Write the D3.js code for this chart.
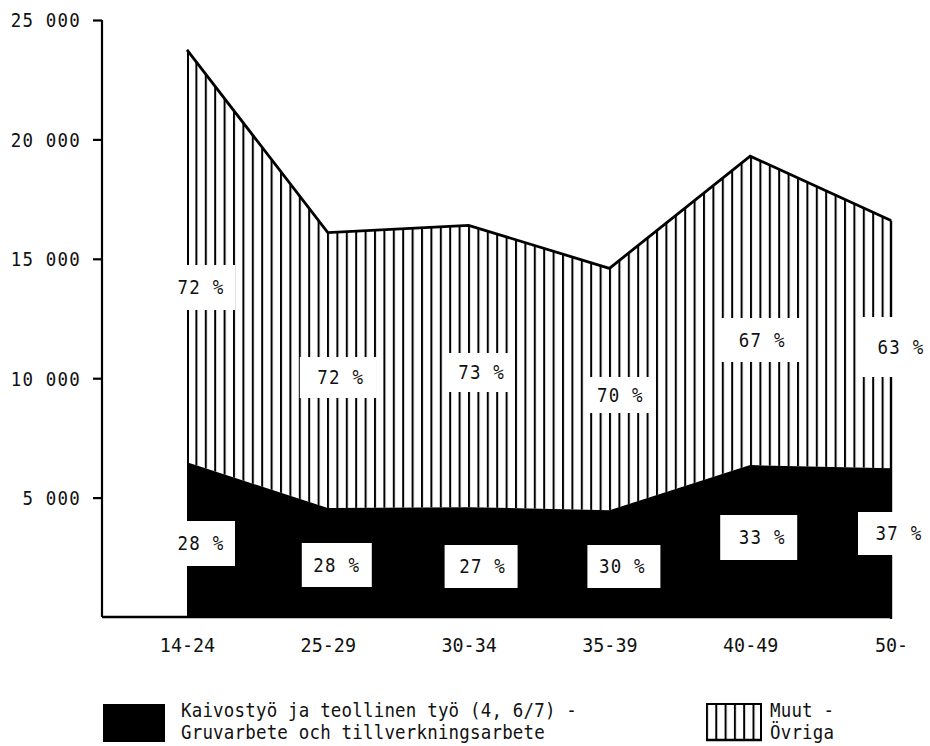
<!DOCTYPE html>
<html><head><meta charset="utf-8">
<script src="https://cdn.jsdelivr.net/npm/d3@7"></script>
<style>
body{margin:0;background:#fff;}
text{font-family:"DejaVu Sans Mono",monospace;fill:#111;}
</style></head>
<body><svg id="chart" width="930" height="746"></svg>
<script>
// ---- data ----
const categories = ["14-24","25-29","30-34","35-39","40-49","50-"];
const industry   = [6480, 4560, 4600, 4470, 6360, 6230];      // Kaivostyö ja teollinen työ
const others     = [17270, 11540, 11800, 10130, 12940, 10370]; // Muut - Övriga
const pctIndustry = ["28 %","28 %","27 %","30 %","33 %","37 %"];
const pctOthers   = ["72 %","72 %","73 %","70 %","67 %","63 %"];
const yTicks = [5000, 10000, 15000, 20000, 25000];
const yTickLabels = ["5 000","10 000","15 000","20 000","25 000"];
const legendLabels = [["Kaivostyö ja teollinen työ (4, 6/7) -","Gruvarbete och tillverkningsarbete"],["Muut -","Övriga"]];

// ---- layout (label boxes relative to category x) ----
const upperBox = [ {dx:-11,w:59,y:265,h:45,tx:14}, {dx:-28,w:77,y:357,h:41,tx:13}, {dx:-22,w:66,y:353,h:39,tx:13},
                   {dx:-24,w:70,y:377,h:36,tx:11}, {dx:-30,w:80,y:318,h:44,tx:12}, {dx:-33,w:67,y:317,h:60,tx:10} ];
const lowerBox = [ {dx:-11,w:59,y:521,h:45,tx:14}, {dx:-26,w:70,y:543,h:44,tx:9}, {dx:-24,w:73,y:545,h:43,tx:14},
                   {dx:-22,w:73,y:545,h:43,tx:13}, {dx:-30,w:77,y:515,h:45,tx:12}, {dx:-33,w:67,y:512,h:43,tx:8} ];
const SX = 0.92; // horizontal squeeze of the typewriter-like font

const svg = d3.select("#chart");
const x = d3.scalePoint().domain(categories).range([187, 891]);
const y = d3.scaleLinear().domain([0, 25000]).range([617, 20]);

function styleText(sel, size, ls){
  sel.style("font-size", size+"px").style("letter-spacing", ls+"px")
     .style("font-family","'DejaVu Sans Mono',monospace").attr("fill","#111");
}

// hatch pattern
const defs = svg.append("defs");
const pat = defs.append("pattern").attr("id","hatch").attr("patternUnits","userSpaceOnUse")
  .attr("x",186).attr("y",0).attr("width",9.4).attr("height",20);
pat.append("rect").attr("x",0).attr("y",0).attr("width",2).attr("height",20).attr("fill","#000");
const pat2 = defs.append("pattern").attr("id","hatch2").attr("patternUnits","userSpaceOnUse")
  .attr("x",706).attr("y",0).attr("width",9.3).attr("height",20);
pat2.append("rect").attr("x",0).attr("y",0).attr("width",2).attr("height",20).attr("fill","#000");

const rows = categories.map((c,i)=>({c, ind:industry[i], oth:others[i]}));
const stack = d3.stack().keys(["ind","oth"])(rows);

const area = d3.area().x(d=>x(d.data.c)).y0(d=>y(d[0])).y1(d=>y(d[1])).curve(d3.curveLinear);
svg.append("path").datum(stack[1]).attr("d",area).attr("fill","url(#hatch)");
svg.append("path").datum(stack[0]).attr("d",area).attr("fill","#000");

// outline of total
const topLine = d3.line().x(d=>x(d.data.c)).y(d=>y(d[1]));
svg.append("path").datum(stack[1]).attr("d",topLine).attr("fill","none").attr("stroke","#000").attr("stroke-width",2.8);
const last = stack[1][stack[1].length-1];
svg.append("line").attr("x1",x(last.data.c)).attr("x2",x(last.data.c)).attr("y1",y(last[1])).attr("y2",y(0)+2)
  .attr("stroke","#000").attr("stroke-width",2.4);
const first = stack[1][0];
svg.append("line").attr("x1",x(first.data.c)+1).attr("x2",x(first.data.c)+1).attr("y1",y(first[1])).attr("y2",y(0))
  .attr("stroke","#000").attr("stroke-width",2);

// axes
const yAxis = d3.axisLeft(y).tickValues(yTicks).tickSize(9).tickFormat((d,i)=>yTickLabels[i]);
const gy = svg.append("g").attr("transform","translate(102,0)").call(yAxis);
gy.select(".domain").attr("d", `M0,${y(25000)}V${y(0)}`).attr("stroke","#000").attr("stroke-width",2.2);
gy.selectAll(".tick line").attr("stroke","#000").attr("stroke-width",2.2);
gy.selectAll(".tick text").attr("x",0).attr("dy","0.36em").attr("transform",`translate(-21,0) scale(${SX},1)`);
styleText(gy.selectAll(".tick text"), 19, 1.3);
svg.append("line").attr("x1",102).attr("x2",x(last.data.c)+1).attr("y1",y(0)).attr("y2",y(0)).attr("stroke","#000").attr("stroke-width",2.4);

const xAxis = d3.axisBottom(x).tickSize(0);
const gx = svg.append("g").attr("transform",`translate(0,${y(0)})`).call(xAxis);
gx.select(".domain").remove();
gx.selectAll(".tick text").attr("y",0).attr("dy","0.36em").attr("transform",`translate(0,28) scale(${SX},1)`);
styleText(gx.selectAll(".tick text"), 20, 0);

// percentage labels
function labels(boxes, texts, cls){
  const g = svg.append("g").attr("class",cls);
  const sel = g.selectAll("g").data(categories).join("g");
  sel.append("rect").attr("x",(c,i)=>x(c)+boxes[i].dx).attr("y",(c,i)=>boxes[i].y)
    .attr("width",(c,i)=>boxes[i].w).attr("height",(c,i)=>boxes[i].h).attr("fill","#fff");
  const t = sel.append("text").attr("transform",(c,i)=>`translate(${x(c)+boxes[i].tx},${boxes[i].y+boxes[i].h/2}) scale(${SX},1)`)
    .attr("text-anchor","middle").attr("dy","0.36em").text((c,i)=>texts[i]);
  styleText(t, 19, 1.3);
}
labels(upperBox, pctOthers, "upper");
labels(lowerBox, pctIndustry, "lower");

// legend
svg.append("rect").attr("x",103).attr("y",704).attr("width",62).attr("height",38).attr("fill","#000");
function legendText(x0, lines){
  const t = svg.append("text").attr("transform",`translate(${x0},717) scale(${SX},1)`);
  t.selectAll("tspan").data(lines).join("tspan").attr("x",0).attr("dy",(d,i)=>i?22:0).text(d=>d);
  styleText(t, 19, 0.2);
}
legendText(181, legendLabels[0]);
svg.append("rect").attr("x",706).attr("y",704).attr("width",56).attr("height",36).attr("fill","url(#hatch2)");
svg.append("line").attr("x1",706).attr("x2",762).attr("y1",704).attr("y2",704).attr("stroke","#000").attr("stroke-width",2);
svg.append("line").attr("x1",706).attr("x2",762).attr("y1",740).attr("y2",740).attr("stroke","#000").attr("stroke-width",2.5);
svg.append("line").attr("x1",761).attr("x2",761).attr("y1",704).attr("y2",740).attr("stroke","#000").attr("stroke-width",2);
legendText(770, legendLabels[1]);
</script></body></html>
